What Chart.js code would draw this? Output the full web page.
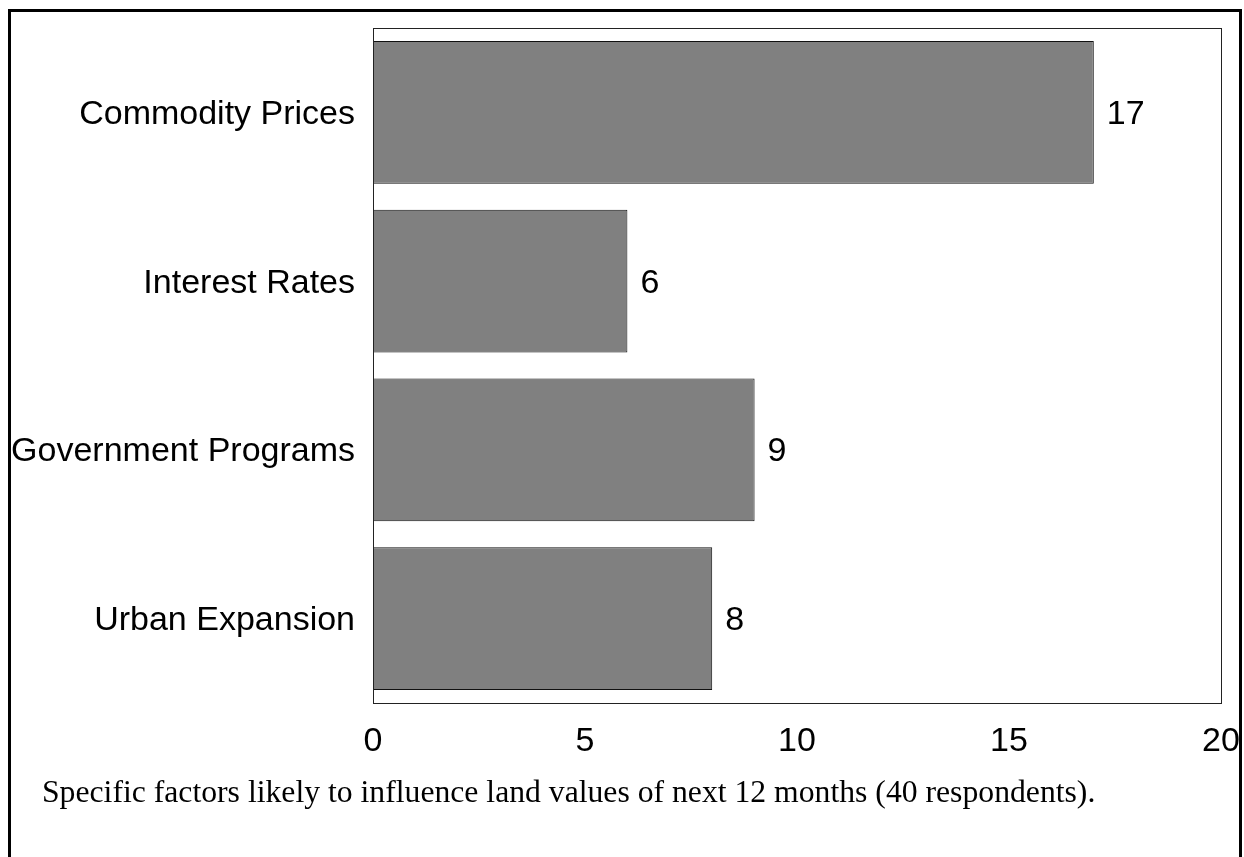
<!DOCTYPE html>
<html>
<head>
<meta charset="utf-8">
<script src="https://cdn.jsdelivr.net/npm/chart.js@4/dist/chart.umd.min.js"></script>
<style>
  html, body { margin: 0; padding: 0; background: #fff; overflow: hidden; }
  body { width: 1244px; height: 857px; position: relative; }
  #frame { position: absolute; left: 8px; top: 9px; width: 1228px; height: 900px; border: 3px solid #000; box-sizing: content-box; }
  #wrap { position: absolute; left: 0; top: 0; width: 1244px; height: 857px; }
  #caption { position: absolute; left: 42px; top: 776px; font-family: "Liberation Serif", "Times New Roman", serif; font-size: 31.7px; line-height: 32px; color: #000; white-space: nowrap; }
</style>
</head>
<body>
<div id="frame"></div>
<div id="wrap"><canvas id="c"></canvas></div>
<div id="caption">Specific factors likely to influence land values of next 12 months (40 respondents).</div>
<script>
const categories = ["Commodity Prices", "Interest Rates", "Government Programs", "Urban Expansion"];
const responses = [17, 6, 9, 8];
const xTicks = [0, 5, 10, 15, 20];

const FONT = "'Liberation Sans', Arial, Helvetica, sans-serif";

const frameBox = {
  id: 'frameBox',
  afterDraw(chart) {
    const a = chart.chartArea, ctx = chart.ctx;
    ctx.save();
    ctx.strokeStyle = '#222';
    ctx.lineWidth = 1;
    ctx.strokeRect(Math.round(a.left) + 0.5, Math.round(a.top) + 0.5, Math.round(a.right - a.left), Math.round(a.bottom - a.top));
    ctx.restore();
  }
};

const valueLabels = {
  id: 'valueLabels',
  afterDatasetsDraw(chart) {
    const ctx = chart.ctx;
    const meta = chart.getDatasetMeta(0);
    ctx.save();
    ctx.font = '34px ' + FONT;
    ctx.fillStyle = '#000';
    ctx.textAlign = 'left';
    ctx.textBaseline = 'middle';
    meta.data.forEach((bar, i) => {
      ctx.fillText(String(chart.data.datasets[0].data[i]), bar.x + 13, bar.y + 2);
    });
    ctx.restore();
  }
};

function noPad(scale) {
  scale.paddingTop = 0; scale.paddingBottom = 0; scale.paddingLeft = 0; scale.paddingRight = 0;
}

new Chart(document.getElementById('c'), {
  type: 'bar',
  data: {
    labels: categories,
    datasets: [{
      data: responses,
      backgroundColor: '#808080',
      borderColor: '#111',
      borderWidth: 1,
      borderSkipped: false,
      barPercentage: 0.847,
      categoryPercentage: 1.0
    }]
  },
  options: {
    indexAxis: 'y',
    responsive: true,
    maintainAspectRatio: false,
    animation: false,
    events: [],
    layout: { padding: { left: 0, top: 28, right: 23, bottom: 94 } },
    plugins: { legend: { display: false }, tooltip: { enabled: false }, title: { display: false } },
    scales: {
      x: {
        type: 'linear',
        min: xTicks[0],
        max: xTicks[xTicks.length - 1],
        afterBuildTicks(scale) { scale.ticks = xTicks.map(v => ({ value: v })); },
        afterFit(scale) { scale.height = 60; noPad(scale); },
        grid: { display: false, drawTicks: false },
        border: { display: false },
        ticks: { color: '#000', padding: 18, font: { family: FONT, size: 34 }, maxRotation: 0 }
      },
      y: {
        afterFit(scale) { scale.width = 373; noPad(scale); },
        grid: { display: false, drawTicks: false },
        border: { display: false },
        ticks: { color: '#000', padding: 18, labelOffset: 2, font: { family: FONT, size: 34 } }
      }
    }
  },
  plugins: [frameBox, valueLabels]
});
</script>
</body>
</html>
